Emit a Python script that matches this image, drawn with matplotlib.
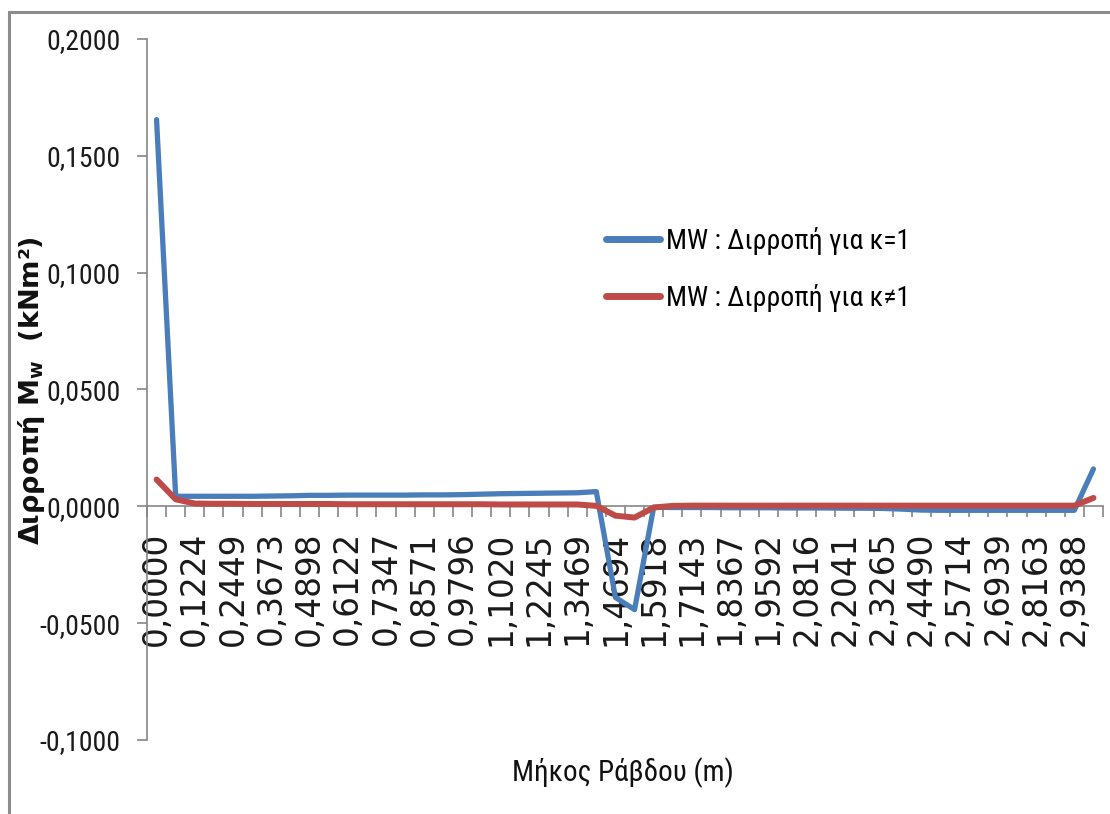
import matplotlib
matplotlib.use("Agg")
import matplotlib.pyplot as plt
from matplotlib import font_manager as fm
from matplotlib.ft2font import FT2Font
from matplotlib.lines import Line2D
from matplotlib.patches import Rectangle
from matplotlib.ticker import FixedLocator, FuncFormatter, NullFormatter

# Stations along the bar (m)
stations = [
    0.0000, 0.0612, 0.1224, 0.1837, 0.2449, 0.3061, 0.3673, 0.4286, 0.4898, 0.5510,
    0.6122, 0.6735, 0.7347, 0.7959, 0.8571, 0.9184, 0.9796, 1.0408, 1.1020, 1.1633,
    1.2245, 1.2857, 1.3469, 1.4082, 1.4694, 1.5306, 1.5918, 1.6531, 1.7143, 1.7755,
    1.8367, 1.8980, 1.9592, 2.0204, 2.0816, 2.1429, 2.2041, 2.2653, 2.3265, 2.3878,
    2.4490, 2.5102, 2.5714, 2.6327, 2.6939, 2.7551, 2.8163, 2.8776, 2.9388, 3.0000,
]

# Bimoment Mw for k = 1 (kNm^2)
mw_k1 = [
    0.1655, 0.0043, 0.0043, 0.0043, 0.0043, 0.0043, 0.0044, 0.0045, 0.0047, 0.0047,
    0.0048, 0.0048, 0.0048, 0.0048, 0.0049, 0.0049, 0.0050, 0.0052, 0.0054, 0.0055,
    0.0056, 0.0057, 0.0058, 0.0063, -0.0390, -0.0442, -0.0004, -0.0005, -0.0005, -0.0005,
    -0.0006, -0.0006, -0.0006, -0.0007, -0.0007, -0.0007, -0.0008, -0.0008, -0.0009, -0.0012,
    -0.0016, -0.0017, -0.0017, -0.0017, -0.0017, -0.0017, -0.0017, -0.0017, -0.0017, 0.0160,
]

# Bimoment Mw for k != 1 (kNm^2)
mw_k_other = [
    0.0115, 0.0030, 0.0012, 0.0011, 0.0011, 0.0010, 0.0010, 0.0010, 0.0010, 0.0010,
    0.0009, 0.0009, 0.0009, 0.0009, 0.0009, 0.0009, 0.0009, 0.0009, 0.0008, 0.0008,
    0.0008, 0.0008, 0.0008, 0.0002, -0.0040, -0.0048, -0.0005, 0.0002, 0.0003, 0.0003,
    0.0003, 0.0003, 0.0003, 0.0003, 0.0003, 0.0003, 0.0003, 0.0003, 0.0003, 0.0003,
    0.0003, 0.0003, 0.0003, 0.0003, 0.0003, 0.0003, 0.0003, 0.0003, 0.0003, 0.0036,
]

series_labels = ["MW : Διρροπή για κ=1", "MW : Διρροπή για κ≠1"]
x_title = "Μήκος Ράβδου (m)"
y_title = "Διρροπή M$_{\\mathbf{w}}$  (kNm²)"
y_ticks = [-0.10, -0.05, 0.0, 0.05, 0.10, 0.15, 0.20]

blue = "#4A7EBB"
red = "#BE4B48"
axis_grey = "#868686"


def narrowest_greek_font():
    """Pick the narrowest installed regular sans face that has Greek glyphs."""
    families = {"Liberation Sans Narrow", "Roboto Condensed", "Open Sans Condensed",
                "Noto Sans", "DejaVu Sans", "Open Sans", "Liberation Sans",
                "Roboto", "Lato", "Inter", "Noto Sans Display"}
    best, best_w = None, None
    for f in fm.fontManager.ttflist:
        if f.name not in families or f.style != "normal":
            continue
        if f.weight not in (400, "normal", "regular", "book"):
            continue
        try:
            ft = FT2Font(f.fname)
            if not all(ft.get_char_index(ord(c)) for c in "ΔήβΜ≠"):
                continue
            ft.set_size(100, 72)
            ft.set_text("0,2000 Διρροπή")
            w, _ = ft.get_width_height()
        except Exception:
            continue
        if best_w is None or w < best_w:
            best, best_w = f.fname, w
    return best


narrow_path = narrowest_greek_font()


def narrow(size):
    if narrow_path:
        return fm.FontProperties(fname=narrow_path, size=size)
    return fm.FontProperties(family="DejaVu Sans", size=size)


W, H = 1110, 814
fig = plt.figure(figsize=(W / 100, H / 100), dpi=100)
fig.patch.set_facecolor("white")

# outer chart frame
fig.patches.append(Rectangle((9 / W, -0.2), 1.3, 1.2 - 12 / H,
                             transform=fig.transFigure, fill=False,
                             edgecolor="#8C8C8C", linewidth=2.2, zorder=0))

ax = fig.add_axes([147 / W, 1 - 740 / H, (1103 - 147) / W, (740 - 39) / H])
ax.set_facecolor("white")

idx = list(range(len(stations)))
ax.plot(idx, mw_k1, color=blue, lw=3.8, solid_capstyle="round",
        solid_joinstyle="round", zorder=3)
ax.plot(idx, mw_k_other, color=red, lw=4.3, solid_capstyle="round",
        solid_joinstyle="round", zorder=3)

ax.set_xlim(-0.5, len(stations) - 0.5)
ax.set_ylim(-0.10, 0.20)

for s in ("top", "right"):
    ax.spines[s].set_visible(False)
ax.spines["left"].set_color(axis_grey)
ax.spines["left"].set_linewidth(1.2)
ax.spines["bottom"].set_position(("data", 0.0))
ax.spines["bottom"].set_color(axis_grey)
ax.spines["bottom"].set_linewidth(1.2)

# y axis
ax.set_yticks(y_ticks)
ax.yaxis.set_major_formatter(FuncFormatter(lambda v, p: f"{v:.4f}".replace(".", ",")))
ax.tick_params(axis="y", direction="out", length=7, width=1.2, color=axis_grey,
               pad=12, labelcolor="#1a1a1a")
for lbl in ax.get_yticklabels():
    lbl.set_fontproperties(narrow(20))

# x axis: labels on every other station, ticks between stations
shown = idx[::2]
ax.xaxis.set_major_locator(FixedLocator(shown))
ax.set_xticklabels([f"{stations[i]:.4f}".replace(".", ",") for i in shown],
                   rotation=90, fontsize=23.5, family="DejaVu Sans", color="#1a1a1a")
ax.xaxis.set_minor_locator(FixedLocator([i - 0.5 for i in range(len(stations) + 1)]))
ax.xaxis.set_minor_formatter(NullFormatter())
ax.tick_params(axis="x", which="major", length=0, pad=18)
ax.tick_params(axis="x", which="minor", direction="out", length=8, width=1.2,
               color=axis_grey)

# axis titles
fig.text(623 / W, 1 - 773 / H, x_title, ha="center", va="center",
         fontproperties=narrow(21), color="#111111")
fig.text(32 / W, 1 - 391 / H, y_title, ha="center", va="center", rotation=90,
         fontsize=19.5, fontweight="bold", family="DejaVu Sans", color="#111111")

handles = [Line2D([], [], color=blue, lw=5, solid_capstyle="round"),
           Line2D([], [], color=red, lw=5, solid_capstyle="round")]
ax.legend(handles, series_labels, loc="upper left",
          bbox_to_anchor=(606 / W, 1 - 227 / H), bbox_transform=fig.transFigure,
          frameon=False, borderpad=0, borderaxespad=0, handlelength=1.95,
          handletextpad=0.2, labelspacing=1.05, prop=narrow(20))

fig.savefig("out.png", dpi=100, facecolor="white")
